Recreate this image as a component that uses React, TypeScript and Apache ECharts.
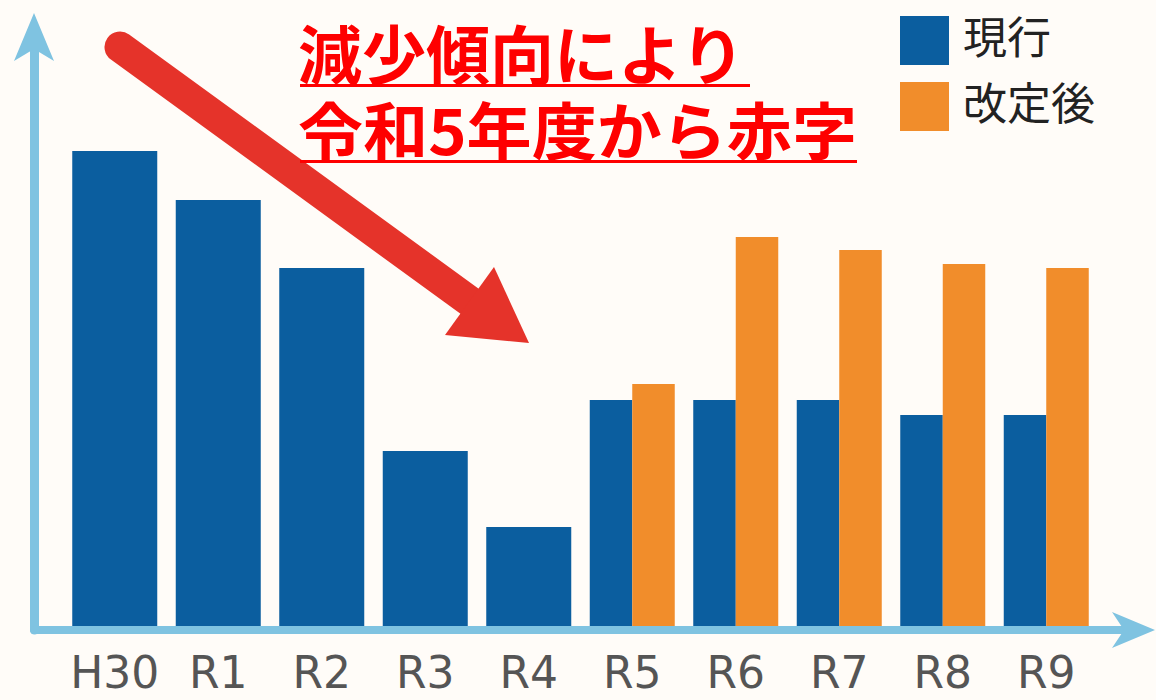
import React, { useEffect, useRef } from "react";
import * as echarts from "echarts";

const categories = ["H30", "R1", "R2", "R3", "R4", "R5", "R6", "R7", "R8", "R9"];
const currentValues = [475, 426, 358, 175, 99, 226, 226, 226, 211, 211];
const revisedValues = [null, null, null, null, null, 242, 389, 376, 362, 358];
const seriesNames = ["現行", "改定後"];
const titleLines = ["減少傾向により", "令和5年度から赤字"];

const BLUE = "#0b5e9f";
const ORANGE = "#f18d2b";
const AXIS = "#7fc3e1";
const RED = "#e5332a";
const TITLE_RED = "#fe0000";

export default function App() {
  const ref = useRef<HTMLDivElement>(null);

  useEffect(() => {
    if (!ref.current) return;
    const chart = echarts.init(ref.current, null, { renderer: "svg" });
    const singleCurrent = currentValues.map((v, i) => (revisedValues[i] == null ? v : null));
    const pairedCurrent = currentValues.map((v, i) => (revisedValues[i] == null ? null : v));

    chart.setOption({
      animation: false,
      backgroundColor: "#fffcf8",
      legend: {
        data: seriesNames,
        orient: "vertical",
        left: 900,
        top: 5,
        padding: 0,
        itemWidth: 49,
        itemHeight: 60,
        itemGap: 6,
        icon: "path://M0,0L49,0Z M0,11L49,11L49,60L0,60Z",
        selectedMode: false,
        textStyle: {
          fontSize: 44,
          color: "#222",
          fontFamily: "Noto Sans CJK JP",
          padding: [0, 0, 0, 9],
        },
      },
      grid: [
        { left: 63, right: 58, top: 26, bottom: 74, outerBoundsMode: "none" },
        { left: 34, right: 26, top: 40, bottom: 70, outerBoundsMode: "none" },
      ],
      xAxis: [
        {
          type: "category",
          gridIndex: 0,
          data: categories,
          axisLine: { show: false },
          axisTick: { show: false },
          axisLabel: {
            interval: 0,
            fontSize: 44,
            color: "#555",
            fontFamily: "DejaVu Sans",
            margin: 24,
          },
        },
        {
          type: "category",
          gridIndex: 0,
          data: categories,
          show: false,
        },
        {
          type: "value",
          gridIndex: 1,
          min: 0,
          max: 1,
          axisLine: {
            show: true,
            onZero: false,
            lineStyle: { color: AXIS, width: 8 },
          },
          axisTick: { show: false },
          axisLabel: { show: false },
          splitLine: { show: false },
        },
      ],
      yAxis: [
        {
          type: "value",
          gridIndex: 0,
          min: 0,
          max: 600,
          show: false,
        },
        {
          type: "value",
          gridIndex: 1,
          min: 0,
          max: 1,
          axisLine: {
            show: true,
            onZero: false,
            lineStyle: { color: AXIS, width: 9 },
          },
          axisTick: { show: false },
          axisLabel: { show: false },
          splitLine: { show: false },
        },
      ],
      series: [
        {
          name: seriesNames[0],
          type: "bar",
          xAxisIndex: 0,
          yAxisIndex: 0,
          data: singleCurrent,
          barWidth: 85,
          itemStyle: { color: BLUE },
          z: 3,
        },
        {
          name: seriesNames[0],
          type: "bar",
          xAxisIndex: 1,
          yAxisIndex: 0,
          data: pairedCurrent,
          barWidth: 42.5,
          barGap: "0%",
          itemStyle: { color: BLUE },
          z: 3,
        },
        {
          name: seriesNames[1],
          type: "bar",
          xAxisIndex: 1,
          yAxisIndex: 0,
          data: revisedValues,
          barWidth: 42.5,
          barGap: "0%",
          itemStyle: { color: ORANGE },
          z: 3,
        },
      ],
      graphic: [
        {
          type: "polygon",
          shape: { points: [[34, 13], [54, 61], [34, 49], [14, 61]] },
          style: { fill: AXIS },
          z: 5,
        },
        {
          type: "polygon",
          shape: { points: [[1155, 630], [1112, 612], [1124, 630], [1112, 648]] },
          style: { fill: AXIS },
          z: 5,
        },
        {
          type: "line",
          shape: { x1: 120, y1: 47, x2: 472, y2: 303 },
          style: { stroke: RED, lineWidth: 31, lineCap: "round" },
          z: 10,
        },
        {
          type: "polygon",
          shape: { points: [[494, 267], [529, 343], [445, 335]] },
          style: { fill: RED },
          z: 10,
        },
        {
          type: "text",
          x: 298,
          y: 51,
          z: 11,
          style: {
            text: titleLines[0],
            x: 0,
            y: 0,
            fontSize: 64,
            fontWeight: "bold",
            fontFamily: "Noto Sans CJK JP",
            fill: TITLE_RED,
            align: "left",
            verticalAlign: "middle",
          },
        },
        {
          type: "rect",
          shape: { x: 300, y: 84, width: 450, height: 3 },
          style: { fill: TITLE_RED },
          z: 11,
        },
        {
          type: "text",
          x: 298,
          y: 128,
          scaleX: 1.05,
          z: 11,
          style: {
            text: titleLines[1],
            x: 0,
            y: 0,
            fontSize: 62,
            fontWeight: "bold",
            fontFamily: "Noto Sans CJK JP",
            fill: TITLE_RED,
            align: "left",
            verticalAlign: "middle",
          },
        },
        {
          type: "rect",
          shape: { x: 300, y: 160, width: 557, height: 3 },
          style: { fill: TITLE_RED },
          z: 11,
        },
      ],
    });

    return () => chart.dispose();
  }, []);

  return (
    <div
      ref={ref}
      style={{ position: "fixed", left: 0, top: 0, width: 1156, height: 700 }}
    />
  );
}
